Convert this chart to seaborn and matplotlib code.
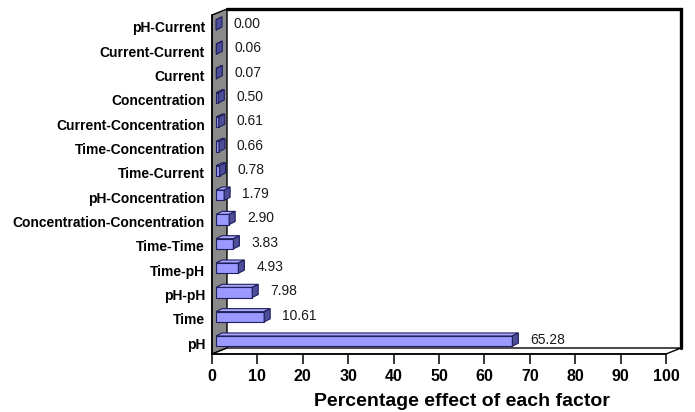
import matplotlib
matplotlib.use("Agg")
import matplotlib.pyplot as plt
from matplotlib.patches import Polygon
from matplotlib.lines import Line2D
import numpy as np
import pandas as pd
import seaborn as sns

# Percentage effect of each factor (top to bottom)
factors = [
    "pH-Current", "Current-Current", "Current", "Concentration",
    "Current-Concentration", "Time-Concentration", "Time-Current",
    "pH-Concentration", "Concentration-Concentration", "Time-Time",
    "Time-pH", "pH-pH", "Time", "pH",
]
effects = [0.00, 0.06, 0.07, 0.50, 0.61, 0.66, 0.78,
           1.79, 2.90, 3.83, 4.93, 7.98, 10.61, 65.28]
x_ticks = [0, 10, 20, 30, 40, 50, 60, 70, 80, 90, 100]
x_label = "Percentage effect of each factor"

# colours of the pseudo-3D look
FRONT = "#9999ff"
TOP = "#a9a9ff"
SIDE = "#4d4d99"
EDGE = "#1f1f5c"
WALL = "#8a8a8a"

sns.set_theme(style="white")
plt.rcParams["font.family"] = ["Liberation Sans", "DejaVu Sans"]

DPI = 100
W, H = 695, 412
fig = plt.figure(figsize=(W / DPI, H / DPI), dpi=DPI)
ax = fig.add_axes([212 / W, 58 / H, 454 / W, 339 / H])

df = pd.DataFrame({"factor": factors, "effect": effects})
sns.barplot(data=df, x="effect", y="factor", orient="h", color=FRONT,
            saturation=1, width=0.42, edgecolor=EDGE, linewidth=0.8,
            ax=ax, zorder=3)

n = len(factors)
y_bottom, y_top = n - 1 + 0.45, -0.49
ax.set_xlim(0, 100)
ax.set_ylim(y_bottom, y_top)

# pixel -> data scale factors (axis is linear in both directions)
sx = ax.transData.transform((1, 0))[0] - ax.transData.transform((0, 0))[0]
sy = ax.transData.transform((0, 1))[1] - ax.transData.transform((0, 0))[1]


def shift(x, y, dx, dy):
    """Move a data point by (dx, dy) screen pixels (y up)."""
    return (x + dx / sx, y + dy / sy)


DEPTH = (15, 6)       # depth of the chart box in pixels
BAR_POS = (4, 2)      # position of bar fronts inside that depth
BAR_DEPTH = (6, 3)    # depth of each bar

# left wall
wall = [(0, y_bottom), (0, y_top), shift(0, y_top, *DEPTH), shift(0, y_bottom, *DEPTH)]
ax.add_patch(Polygon(wall, closed=True, facecolor=WALL, edgecolor="black",
                     linewidth=1.0, zorder=1, clip_on=False))

# floor
floor = [(0, y_bottom), (100, y_bottom), shift(100, y_bottom, *DEPTH), shift(0, y_bottom, *DEPTH)]
ax.add_patch(Polygon(floor, closed=True, facecolor="white", edgecolor="black",
                     linewidth=1.0, zorder=1, clip_on=False))

# back plane frame (top and right edges)
bl = shift(0, y_top, *DEPTH)
tr = shift(100, y_top, *DEPTH)
br = shift(100, y_bottom, *DEPTH)
ax.add_line(Line2D([bl[0], tr[0], br[0]], [bl[1], tr[1], br[1]],
                   color="black", linewidth=2.4, zorder=2, clip_on=False,
                   solid_joinstyle="miter"))

# give every bar a top face and an end face
for patch in ax.patches[:]:
    if patch.get_facecolor()[:3] != matplotlib.colors.to_rgb(FRONT):
        continue
    x0, y0 = patch.get_x(), patch.get_y()
    w, h = patch.get_width(), patch.get_height()
    nx, ny = shift(x0, y0, *BAR_POS)
    patch.set_x(nx)
    patch.set_y(ny)
    left, right = nx, nx + w
    top, bot = min(ny, ny + h), max(ny, ny + h)
    top_face = [(left, top), (right, top), shift(right, top, *BAR_DEPTH),
                shift(left, top, *BAR_DEPTH)]
    side_face = [(right, bot), (right, top), shift(right, top, *BAR_DEPTH),
                 shift(right, bot, *BAR_DEPTH)]
    ax.add_patch(Polygon(top_face, closed=True, facecolor=TOP, edgecolor=EDGE,
                         linewidth=0.8, zorder=3, clip_on=False))
    ax.add_patch(Polygon(side_face, closed=True, facecolor=SIDE, edgecolor=EDGE,
                         linewidth=0.8, zorder=3, clip_on=False))

# value labels
for i, v in enumerate(effects):
    ax.annotate(f"{v:.2f}", xy=(v, i), xytext=(22 * 72 / DPI, 3 * 72 / DPI),
                textcoords="offset points", ha="left", va="center",
                fontsize=10, color="#1a1a1a", zorder=4, annotation_clip=False)

sns.despine(ax=ax, top=True, right=True)
for side in ("left", "bottom"):
    ax.spines[side].set_color("black")
    ax.spines[side].set_linewidth(1.1)
    ax.spines[side].set_zorder(5)

ax.set_xticks(x_ticks)
ax.set_xticklabels([str(t) for t in x_ticks], fontsize=11.5, fontweight="bold")
ax.set_yticks(range(n))
ax.set_yticklabels(factors, fontsize=10, fontweight="bold")
ax.tick_params(axis="x", direction="out", length=7, width=1.1, color="black",
               pad=4, bottom=True, labelcolor="black")
ax.tick_params(axis="y", length=0, pad=5, labelcolor="black")
ax.set_xlabel(x_label, fontsize=14, fontweight="bold", color="black")
ax.xaxis.set_label_coords((462 - 212) / 454, -0.115)
ax.set_ylabel("")
ax.grid(False)

fig.savefig("out.png", dpi=DPI)
